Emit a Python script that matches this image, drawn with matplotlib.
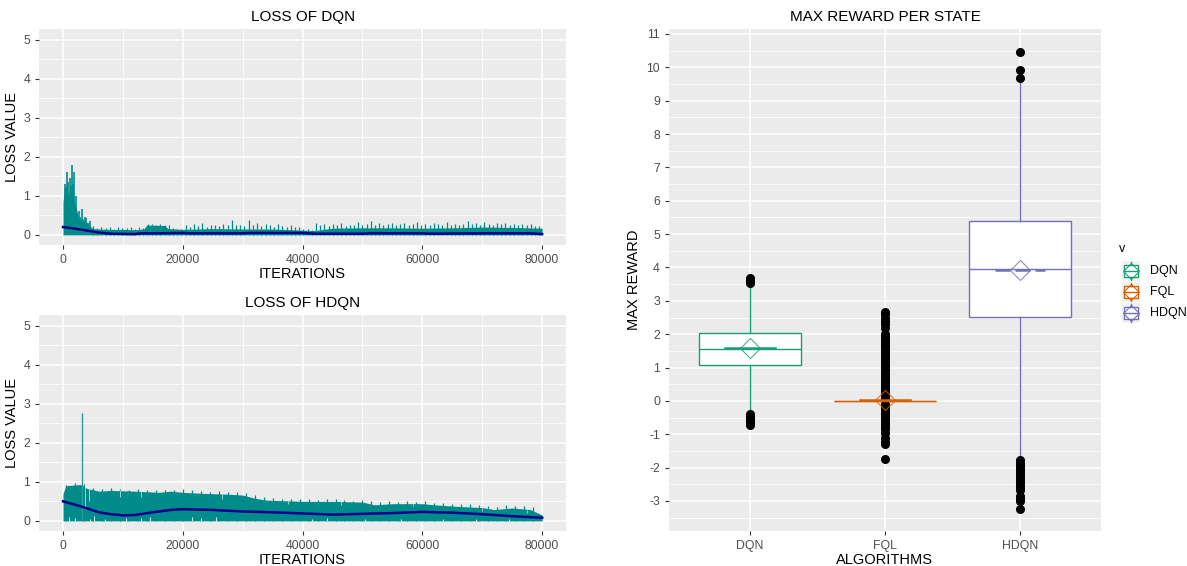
import matplotlib.pyplot as plt
import matplotlib.patches as mpatches
from matplotlib.ticker import MultipleLocator
import numpy as np

plt.rcParams['font.family'] = ['Liberation Sans', 'DejaVu Sans']
plt.rcParams['axes.unicode_minus'] = False

# ---- loss of DQN (dense band upper edge, spikes, smoothed curve) ----
dqn_x = [0, 300, 700, 1000, 1500, 2000, 2500, 3000, 3500, 4000, 4500, 5000, 6000, 8000,
         10000, 12000, 13500, 14000, 17000, 17500, 20000, 25000, 30000, 35000, 40000,
         42000, 45000, 50000, 55000, 60000, 65000, 70000, 75000, 80000]
dqn_top = [0.85, 1.25, 1.2, 1.0, 1.15, 0.8, 0.5, 0.38, 0.35, 0.32, 0.22, 0.16, 0.15, 0.14,
           0.14, 0.13, 0.15, 0.25, 0.24, 0.16, 0.14, 0.16, 0.15, 0.15, 0.12,
           0.11, 0.17, 0.18, 0.18, 0.17, 0.18, 0.2, 0.19, 0.17]
# early spikes
dqn_early_x = [400, 600, 800, 1100, 1300, 1500, 1700, 1800, 2100, 2400, 2600, 2900, 3100,
               3400, 3600, 3900, 4200, 4500]
dqn_early_y = [1.3, 1.6, 1.35, 1.45, 1.25, 1.8, 1.3, 1.6, 1.0, 0.55, 0.6, 0.45, 0.65,
               0.4, 0.45, 0.42, 0.3, 0.35]
# later spikes, read left to right from 5000 to 79500
dqn_late_y = [0.22, 0.18, 0.2, 0.17, 0.19, 0.16, 0.2, 0.18, 0.17, 0.19, 0.16, 0.2, 0.18,
              0.28, 0.27, 0.26, 0.28, 0.25, 0.24,
              0.18, 0.16, 0.15,
              0.25, 0.2, 0.28, 0.22, 0.3, 0.21, 0.26, 0.24, 0.22, 0.28, 0.25,
              0.37, 0.24, 0.26, 0.22, 0.38, 0.25, 0.3, 0.22, 0.27, 0.24, 0.21, 0.28, 0.23,
              0.2, 0.25, 0.19, 0.2,
              0.15, 0.14, 0.13,
              0.3, 0.24, 0.27, 0.22, 0.28, 0.25, 0.3, 0.23, 0.26, 0.24, 0.33, 0.25, 0.28,
              0.35, 0.26, 0.3, 0.24, 0.27, 0.31, 0.25, 0.28, 0.3, 0.24, 0.27, 0.33, 0.26,
              0.29, 0.25, 0.3, 0.27, 0.24, 0.32, 0.26, 0.29, 0.25, 0.28, 0.35, 0.27, 0.3,
              0.26, 0.33, 0.28, 0.25, 0.31, 0.27, 0.3, 0.24, 0.29, 0.26, 0.28, 0.25, 0.27,
              0.23, 0.22]
dqn_smooth_x = [0, 2000, 4000, 6000, 8000, 12000, 13000, 16000, 20000, 21000, 30000, 31000,
                40000, 42000, 50000, 51000, 60000, 61000, 70000, 78000, 80000]
dqn_smooth_y = [0.2, 0.16, 0.11, 0.06, 0.03, 0.02, 0.04, 0.04, 0.05, 0.04, 0.04, 0.05,
                0.05, 0.03, 0.03, 0.04, 0.04, 0.03, 0.04, 0.04, 0.02]

# ---- loss of HDQN ----
hdqn_x = [0, 500, 3000, 4000, 6000, 8000, 12000, 16000, 18000, 20000, 24000, 28000, 30000,
          32000, 34000, 40000, 45000, 50000, 52000, 55000, 60000, 62000, 66000, 70000,
          72000, 75000, 78000, 80000]
hdqn_top = [0.7, 0.9, 0.93, 0.83, 0.76, 0.78, 0.76, 0.73, 0.76, 0.73, 0.7, 0.68, 0.66,
            0.58, 0.53, 0.5, 0.5, 0.48, 0.41, 0.44, 0.44, 0.41, 0.37, 0.34,
            0.29, 0.33, 0.29, 0.15]
hdqn_spike_y = [0.93, 0.96, 0.95, 0.85, 0.82, 0.84, 0.82, 0.8, 0.82, 0.79, 0.8, 0.78, 0.8,
                0.82, 0.78, 0.76, 0.75, 0.76, 0.74, 0.73, 0.72, 0.66, 0.6, 0.58, 0.57,
                0.56, 0.56, 0.55, 0.54, 0.56, 0.55, 0.54, 0.52, 0.53, 0.5, 0.48, 0.5,
                0.49, 0.5, 0.48, 0.51, 0.47, 0.45, 0.44, 0.42, 0.42, 0.4, 0.38, 0.36,
                0.4, 0.37, 0.38, 0.36]
hdqn_peak_x = [3200]
hdqn_peak_y = [2.75]
hdqn_notch_x = [3600, 4300, 9500, 13000, 26500, 37500, 46500, 58500, 70000, 77500]
hdqn_notch_lo = [0.3, 0.5, 0.6, 0.62, 0.55, 0.42, 0.4, 0.38, 0.24, 0.2]
hdqn_notch_hi = [0.92, 0.85, 0.78, 0.77, 0.7, 0.52, 0.5, 0.44, 0.34, 0.29]
hdqn_gap_x = [1000, 2000, 4500, 5200, 7000, 10500, 13000, 14500, 21500, 23000, 25500,
              41500, 44000, 50500, 56500, 63500, 69000, 74500]
hdqn_gap_y = [0.1, 0.08, 0.06, 0.12, 0.06, 0.08, 0.07, 0.09, 0.1, 0.08, 0.1,
              0.06, 0.07, 0.05, 0.06, 0.05, 0.05, 0.04]
hdqn_smooth_x = [0, 3000, 6000, 8000, 10000, 12000, 15000, 18000, 20000, 25000, 30000,
                 35000, 40000, 45000, 50000, 55000, 60000, 65000, 70000, 75000, 80000]
hdqn_smooth_y = [0.5, 0.37, 0.22, 0.17, 0.14, 0.15, 0.22, 0.28, 0.3, 0.28, 0.24,
                 0.22, 0.19, 0.16, 0.18, 0.2, 0.23, 0.21, 0.17, 0.12, 0.08]

# ---- max reward per state (box statistics) ----
algorithms = ['DQN', 'FQL', 'HDQN']
q1 = [1.07, 0.0, 2.52]
med = [1.55, 0.0, 3.95]
q3 = [2.05, 0.0, 5.40]
whislo = [-0.35, 0.0, -1.75]
whishi = [3.50, 0.0, 9.60]
means = [1.58, 0.04, 3.93]
fliers = [
    [-0.40, -0.45, -0.50, -0.55, -0.60, -0.63, -0.67, -0.72, 3.55, 3.60, 3.64, 3.68],
    [-1.73, -1.30, -1.22, -1.10, -0.95, -0.85, -0.78, -0.70, -0.62, -0.55, -0.48, -0.40,
     -0.33, -0.25, -0.18, -0.10, 0.08, 0.15, 0.22, 0.3, 0.38, 0.45, 0.52, 0.6, 0.68,
     0.75, 0.82, 0.9, 0.98, 1.05, 1.12, 1.2, 1.28, 1.35, 1.42, 1.5, 1.58, 1.65, 1.72,
     1.8, 1.88, 1.95, 2.0, 2.2, 2.3, 2.4, 2.5, 2.6, 2.68],
    [10.45, 9.93, 9.68, -1.78, -1.85, -1.92, -2.0, -2.08, -2.15, -2.22, -2.3, -2.38,
     -2.45, -2.52, -2.6, -2.68, -2.85, -2.95, -3.0, -3.25],
]
box_colors = ['#1B9E77', '#D95F02', '#7570B3']

PANEL = '#EBEBEB'
TXT = '#4D4D4D'
TEAL = '#008B8B'


def gg_axes(ax):
    ax.set_facecolor(PANEL)
    for s in ax.spines.values():
        s.set_visible(False)
    ax.grid(which='major', color='white', lw=1.1)
    ax.grid(which='minor', color='white', lw=0.55)
    ax.set_axisbelow(True)
    ax.tick_params(which='major', length=3, color='#333333', labelcolor=TXT, labelsize=8.8, width=0.8)
    ax.tick_params(which='minor', length=0)


def loss_frame(ax, title):
    gg_axes(ax)
    ax.set_xlim(-4000, 84000)
    ax.set_ylim(-0.26, 5.27)
    ax.xaxis.set_major_locator(MultipleLocator(20000))
    ax.xaxis.set_minor_locator(MultipleLocator(10000))
    ax.yaxis.set_major_locator(MultipleLocator(1))
    ax.yaxis.set_minor_locator(MultipleLocator(0.5))
    ax.set_title(title, fontsize=11, pad=6)
    ax.set_xlabel('ITERATIONS', fontsize=10.5, labelpad=1)
    ax.set_ylabel('LOSS VALUE', fontsize=10.5, labelpad=3)


fig = plt.figure(figsize=(11.87, 5.66), dpi=100)

# top-left: DQN loss
ax1 = fig.add_axes([0.0329, 0.5671, 0.4440, 0.3816])
loss_frame(ax1, 'LOSS OF DQN')
ax1.fill_between(dqn_x, 0, dqn_top, color=TEAL, lw=0, zorder=2)
ax1.vlines(dqn_early_x, 0, dqn_early_y, color=TEAL, lw=1.2, zorder=2)
ax1.vlines(np.linspace(5000, 79500, len(dqn_late_y)), 0, dqn_late_y, color=TEAL, lw=0.9, zorder=2)
ax1.plot(dqn_smooth_x, dqn_smooth_y, color='#00008B', lw=1.8, zorder=3)

# bottom-left: HDQN loss
ax2 = fig.add_axes([0.0329, 0.0618, 0.4440, 0.3816])
loss_frame(ax2, 'LOSS OF HDQN')
ax2.fill_between(hdqn_x, 0, hdqn_top, color=TEAL, lw=0, zorder=2)
ax2.vlines(np.linspace(500, 78500, len(hdqn_spike_y)), 0, hdqn_spike_y, color=TEAL, lw=0.9, zorder=2)
ax2.vlines(hdqn_peak_x, 0, hdqn_peak_y, color='#2E9A9A', lw=1.0, zorder=2)
ax2.vlines(hdqn_notch_x, hdqn_notch_lo, hdqn_notch_hi, color='white', lw=0.7, alpha=0.6, zorder=2)
ax2.vlines(hdqn_gap_x, 0, hdqn_gap_y, color='white', lw=0.8, alpha=0.8, zorder=2)
ax2.plot(hdqn_smooth_x, hdqn_smooth_y, color='#00008B', lw=1.8, zorder=3)

# ---- box plot ----
ax3 = fig.add_axes([0.5636, 0.0618, 0.3639, 0.8870])
gg_axes(ax3)
pos = np.arange(1, len(algorithms) + 1)
for i, name in enumerate(algorithms):
    c = box_colors[i]
    st = dict(label=name, q1=q1[i], med=med[i], q3=q3[i], whislo=whislo[i],
              whishi=whishi[i], fliers=fliers[i], mean=means[i])
    ax3.bxp([st], positions=[pos[i]], widths=0.75, patch_artist=True, showcaps=False,
            boxprops=dict(facecolor='white', edgecolor=c, lw=1.0),
            whiskerprops=dict(color=c, lw=1.0),
            medianprops=dict(color=c, lw=1.0),
            flierprops=dict(marker='o', markerfacecolor='black', markeredgecolor='black',
                            markersize=5.5),
            zorder=3)
    ls = (0, (6, 2)) if i == 2 else '-'
    ax3.plot([pos[i] - 0.185, pos[i] + 0.185], [means[i], means[i]], color=c, lw=1.8,
             ls=ls, zorder=4)
    ax3.plot(pos[i], means[i], marker='D', markersize=10, markerfacecolor='none',
             markeredgecolor=c, markeredgewidth=0.8, alpha=0.8, zorder=5)
ax3.set_xlim(0.4, 3.6)
ax3.set_ylim(-3.9, 11.15)
ax3.set_xticks(pos)
ax3.set_xticklabels(algorithms)
ax3.yaxis.set_major_locator(MultipleLocator(1))
ax3.yaxis.set_minor_locator(MultipleLocator(0.5))
ax3.set_xticks([], minor=True)
ax3.set_title('MAX REWARD PER STATE', fontsize=11, pad=6)
ax3.set_xlabel('ALGORITHMS', fontsize=10.5, labelpad=1)
ax3.set_ylabel('MAX REWARD', fontsize=10.5, labelpad=4)

# ---- legend drawn by hand (ggplot style keys), pixel coordinates ----
lg = fig.add_axes([1116 / 1187, 1 - 326 / 566, 71 / 1187, 90 / 566])
lg.set_xlim(1116, 1187)
lg.set_ylim(326, 236)
lg.axis('off')
lg.text(1119, 249, 'v', fontsize=9, va='center', ha='left')
for i, name in enumerate(algorithms):
    yc = 271 + i * 21
    c = box_colors[i]
    lg.add_patch(mpatches.Rectangle((1122, yc - 10), 18, 20, facecolor='#F2F2F2', edgecolor='none'))
    lg.add_patch(mpatches.Rectangle((1124, yc - 6), 14, 12, facecolor='white', edgecolor=c, lw=1.0))
    lg.plot([1131, 1131], [yc - 9, yc - 6], color=c, lw=1.0)
    lg.plot([1131, 1131], [yc + 6, yc + 9], color=c, lw=1.0)
    lg.plot([1124, 1138], [yc, yc], color=c, lw=1.0)
    lg.plot(1131, yc, marker='D', markersize=8, markerfacecolor='none', markeredgecolor=c, markeredgewidth=0.8)
    lg.text(1150, yc, name, fontsize=9, va='center', ha='left')

fig.savefig('out.png', dpi=100)
